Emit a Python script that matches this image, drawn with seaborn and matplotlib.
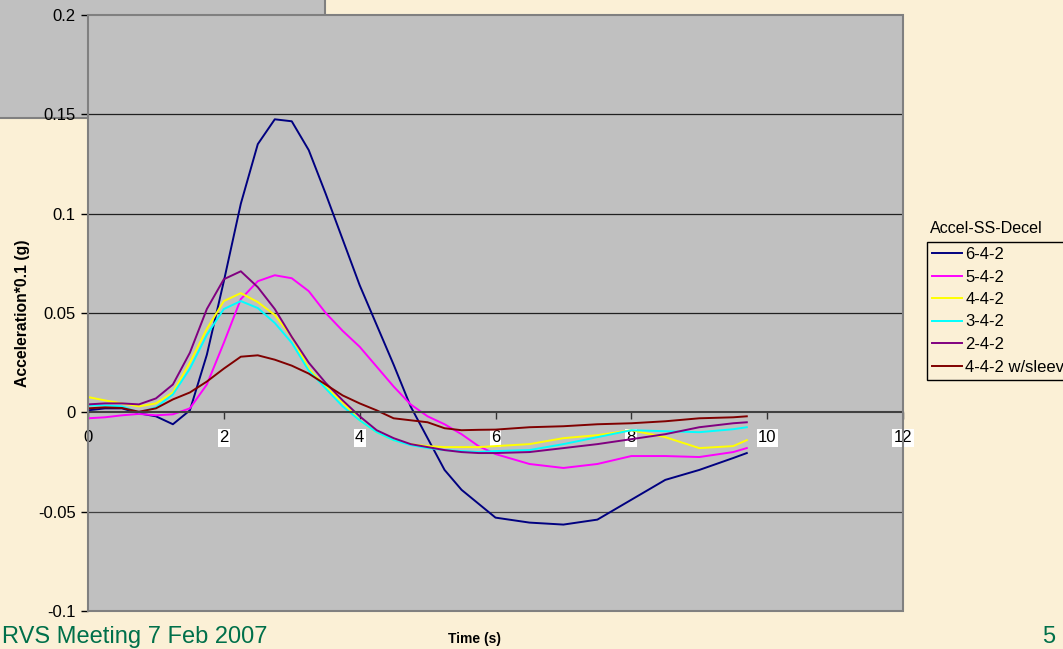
import pandas as pd
import matplotlib
matplotlib.use("Agg")
import matplotlib.pyplot as plt
from matplotlib.patches import Rectangle
import seaborn as sns

# time axis (s)
time_s = [0.0, 0.25, 0.5, 0.75, 1.0, 1.25, 1.5, 1.75, 2.0, 2.25, 2.5, 2.75,
          3.0, 3.25, 3.5, 3.75, 4.0, 4.25, 4.5, 4.75, 5.0, 5.25, 5.5, 5.75,
          6.0, 6.5, 7.0, 7.5, 8.0, 8.5, 9.0, 9.5, 9.7]

# acceleration*0.1 (g)
acc_642 = [0.001, 0.002, 0.002, -0.0005, -0.002, -0.006, 0.001, 0.029, 0.066, 0.105, 0.135, 0.1475,
           0.1465, 0.132, 0.11, 0.087, 0.064, 0.044, 0.024, 0.003, -0.013, -0.029, -0.039, -0.046,
           -0.053, -0.0555, -0.0565, -0.054, -0.044, -0.034, -0.029, -0.023, -0.0205]
acc_542 = [-0.003, -0.0025, -0.0015, -0.0008, -0.0015, -0.001, 0.002, 0.014, 0.035, 0.057, 0.066, 0.069,
           0.0675, 0.061, 0.05, 0.041, 0.033, 0.023, 0.013, 0.004, -0.002, -0.006, -0.011, -0.017,
           -0.021, -0.026, -0.028, -0.026, -0.022, -0.022, -0.0225, -0.02, -0.018]
acc_442 = [0.0077, 0.006, 0.0045, 0.003, 0.0045, 0.01, 0.025, 0.042, 0.056, 0.06, 0.0555, 0.049,
           0.038, 0.022, 0.0127, 0.005, -0.004, -0.01, -0.014, -0.016, -0.017, -0.0175, -0.0175, -0.0175,
           -0.017, -0.016, -0.013, -0.0115, -0.009, -0.0125, -0.018, -0.017, -0.014]
acc_342 = [0.0035, 0.0035, 0.003, 0.0, 0.0025, 0.009, 0.022, 0.039, 0.052, 0.056, 0.0525, 0.045,
           0.035, 0.021, 0.012, 0.003, -0.004, -0.01, -0.014, -0.0165, -0.018, -0.019, -0.0195, -0.02,
           -0.0195, -0.019, -0.016, -0.0125, -0.009, -0.0095, -0.01, -0.0085, -0.0075]
acc_242 = [0.004, 0.0045, 0.0045, 0.004, 0.007, 0.014, 0.03, 0.052, 0.067, 0.071, 0.063, 0.052,
           0.038, 0.025, 0.0148, 0.006, -0.002, -0.009, -0.013, -0.016, -0.0175, -0.019, -0.02, -0.0205,
           -0.0205, -0.02, -0.018, -0.016, -0.0135, -0.011, -0.0075, -0.0055, -0.005]
acc_442_sleeve = [0.002, 0.0025, 0.0022, 0.0003, 0.002, 0.0065, 0.01, 0.0155, 0.022, 0.028, 0.0287, 0.0265,
                  0.0235, 0.0195, 0.014, 0.0085, 0.0045, 0.001, -0.003, -0.004, -0.005, -0.008, -0.009, -0.0088,
                  -0.0087, -0.0075, -0.007, -0.006, -0.0055, -0.0045, -0.003, -0.0025, -0.002]

series_names = ["6-4-2", "5-4-2", "4-4-2", "3-4-2", "2-4-2", "4-4-2 w/sleeve"]
series_vals = [acc_642, acc_542, acc_442, acc_342, acc_242, acc_442_sleeve]
series_colors = ["#000080", "#FF00FF", "#FFFF00", "#00FFFF", "#800080", "#800000"]

x_ticks = [0, 2, 4, 6, 8, 10, 12]
y_ticks = [-0.1, -0.05, 0, 0.05, 0.1, 0.15, 0.2]
y_ticklabels = ["-0.1", "-0.05", "0", "0.05", "0.1", "0.15", "0.2"]

df = pd.concat([pd.DataFrame({"time": time_s, "acc": v, "run": n})
                for n, v in zip(series_names, series_vals)], ignore_index=True)

plt.rcParams['font.family'] = ['Liberation Sans', 'DejaVu Sans']
bg = "#FBF0D6"
W, H = 1063, 649
fig = plt.figure(figsize=(W/100, H/100), dpi=100, facecolor=bg)

# partly hidden grey chart area behind the plot
fig.patches.append(Rectangle((-0.01, 1-118/H), 325/W + 0.01, 118/H + 0.01,
                             transform=fig.transFigure, facecolor="#C0C0C0",
                             edgecolor="#808080", lw=1.5, zorder=-1))

x0, x1, y0, y1 = 88, 903, 15, 611
ax = fig.add_axes([x0/W, 1-y1/H, (x1-x0)/W, (y1-y0)/H])
ax.set_facecolor("#C0C0C0")

sns.lineplot(data=df, x="time", y="acc", hue="run", hue_order=series_names,
             palette=dict(zip(series_names, series_colors)), linewidth=1.4,
             ax=ax, legend=False)
for ln in ax.get_lines():
    ln.set_solid_joinstyle("round")

# x axis crosses at y = 0 (set before styling ticks, it resets them)
ax.spines["bottom"].set_position(("data", 0))
ax.spines["bottom"].set_color("#404040")
ax.spines["bottom"].set_linewidth(1.5)
ax.spines["left"].set_color("black")
ax.spines["left"].set_linewidth(1.2)
ax.spines["top"].set_visible(False)
ax.spines["right"].set_visible(False)
ax.set_xlabel("")
ax.set_ylabel("")

ax.set_xlim(0, 12)
ax.set_ylim(-0.1, 0.2)
ax.set_yticks(y_ticks)
ax.set_yticklabels(y_ticklabels, fontsize=12)
ax.set_xticks(x_ticks)
ax.set_xticklabels([str(t) for t in x_ticks], fontsize=12)
for lab in ax.get_xticklabels()[1:]:
    lab.set_bbox(dict(facecolor="white", edgecolor="none", pad=1))
ax.tick_params(axis="y", direction="out", length=5, width=1, pad=4, color="black")
ax.tick_params(axis="x", direction="out", length=5, width=1, pad=8, color="#333333")

for y in [0.05, 0.1, 0.15]:
    ax.axhline(y, color="#202020", lw=0.9, zorder=1)
for y in [-0.05]:
    ax.axhline(y, color="#404040", lw=0.9, zorder=1)

# plot area border
fig.patches.append(Rectangle((x0/W, 1-y1/H), (x1-x0)/W, (y1-y0)/H,
                             transform=fig.transFigure, fill=False,
                             edgecolor="#808080", lw=1.5, zorder=3))

fig.text(22/W, 1-313/H, "Acceleration*0.1 (g)", rotation=90, fontsize=11.3,
         fontweight="bold", ha="center", va="center")
fig.text(475/W, 1-639/H, "Time (s)", fontsize=10, fontweight="bold",
         ha="center", va="center")

# legend
fig.text(930/W, 1-228/H, "Accel-SS-Decel", fontsize=11.6, ha="left", va="center")
handles = ax.get_lines()[:len(series_names)]
leg = fig.legend(handles, series_names, loc="upper left",
                 bbox_to_anchor=(927/W, 1-242/H), borderaxespad=0,
                 fontsize=12, frameon=True, fancybox=False, framealpha=1,
                 edgecolor="black", facecolor=bg, handlelength=1.8,
                 handletextpad=0.2, labelspacing=0.45, borderpad=0.3)
leg.get_frame().set_linewidth(1.0)

# slide footer
fig.text(2/W, 1-637/H, "RVS Meeting 7 Feb 2007", fontsize=17, color="#00704A",
         ha="left", va="center")
fig.text(1049/W, 1-637/H, "5", fontsize=17, color="#00704A", ha="center", va="center")

fig.savefig("out.png", dpi=100, facecolor=bg)
